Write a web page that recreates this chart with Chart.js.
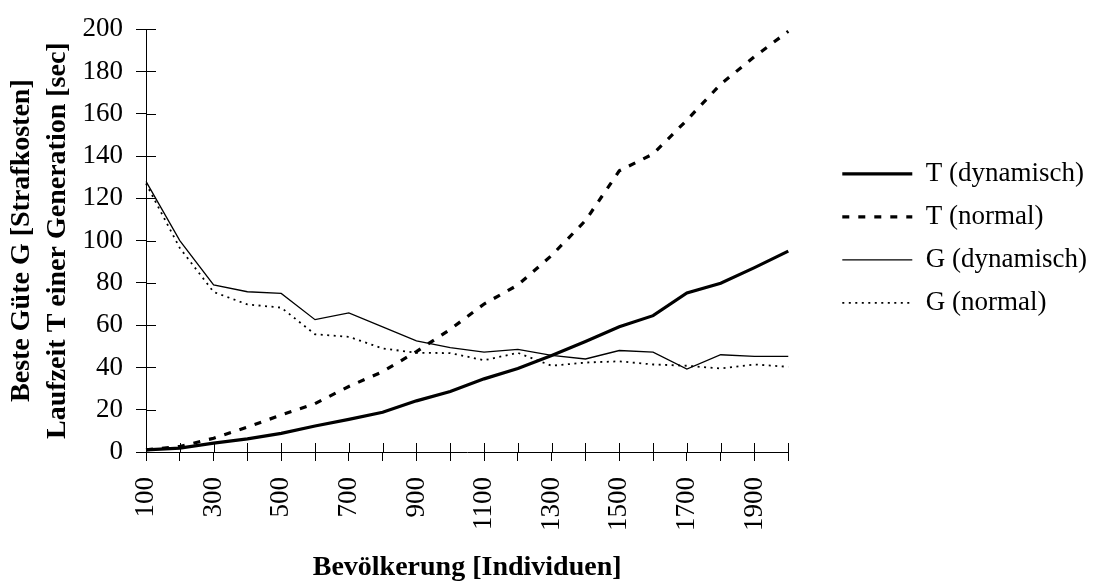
<!DOCTYPE html>
<html>
<head>
<meta charset="utf-8">
<script src="https://cdn.jsdelivr.net/npm/chart.js@4/dist/chart.umd.min.js"></script>
<style>
  html, body { margin: 0; padding: 0; background: #fff; }
  #wrap { width: 1097px; height: 582px; }
</style>
</head>
<body>
<div id="wrap"><canvas id="chart" width="1097" height="582"></canvas></div>
<script>
// x categories: population size
var categories = ['100', '200', '300', '400', '500', '600', '700', '800', '900', '1000',
                  '1100', '1200', '1300', '1400', '1500', '1600', '1700', '1800', '1900', '2000'];

// runtime T per generation [sec]
var tDynamisch = [1, 1.8, 4.2, 6.2, 8.8, 12.3, 15.4, 18.8, 24.2, 28.6,
                  34.6, 39.5, 45.7, 52.3, 59.2, 64.5, 75.2, 79.8, 87.2, 95];
var tNormal = [1, 2.6, 6.5, 11.8, 17.5, 22.9, 31, 38, 47.5, 58,
               70, 79, 93, 109.5, 133, 141, 157, 174, 187, 199];

// best quality G [penalty costs]
var gDynamisch = [128, 100, 79, 75.8, 75, 62.6, 65.8, 59.2, 52.6, 49.4,
                  47.2, 48.5, 45.7, 44, 48, 47.2, 39.2, 46, 45.2, 45.2];
var gNormal = [127, 96.5, 75.7, 69.8, 68.3, 55.7, 54.5, 49, 46.9, 46.8,
               43.4, 46.9, 40.8, 42.3, 42.9, 41.4, 40.8, 39.5, 41.4, 40.3];

var yTicks = [0, 20, 40, 60, 80, 100, 120, 140, 160, 180, 200];

var seriesNames = ['T (dynamisch)', 'T (normal)', 'G (dynamisch)', 'G (normal)'];

Chart.defaults.font.family = "'Liberation Serif', 'Times New Roman', serif";
Chart.defaults.color = '#000';

// tick marks crossing the axes (inside part)
var innerTicks = {
    id: 'innerTicks',
    beforeDatasetsDraw: function (chart) {
        var ctx = chart.ctx, x = chart.scales.x, y = chart.scales.y;
        var i;
        ctx.save();
        ctx.strokeStyle = '#000';
        ctx.lineWidth = 1;
        ctx.beginPath();
        for (i = 0; i < x.ticks.length; i += 1) {
            var px = Math.round(x.getPixelForTick(i)) + 0.5;
            ctx.moveTo(px, x.top);
            ctx.lineTo(px, x.top - 9);
        }
        for (i = 0; i < y.ticks.length; i += 1) {
            var py = Math.round(y.getPixelForTick(i)) + 0.5;
            ctx.moveTo(y.right, py);
            ctx.lineTo(y.right + 10, py);
        }
        ctx.stroke();
        ctx.restore();
    }
};

function line(label, data, width, dash) {
    return {
        label: label,
        data: data,
        borderColor: '#000',
        backgroundColor: '#000',
        borderWidth: width,
        borderDash: dash,
        pointRadius: 0,
        tension: 0,
        fill: false
    };
}

new Chart(document.getElementById('chart').getContext('2d'), {
    type: 'line',
    data: {
        labels: categories,
        datasets: [
            line(seriesNames[0], tDynamisch, 3.2, []),
            line(seriesNames[1], tNormal, 3.2, [7, 9]),
            line(seriesNames[2], gDynamisch, 1.3, []),
            line(seriesNames[3], gNormal, 1.8, [2, 4.5])
        ]
    },
    options: {
        responsive: false,
        animation: false,
        devicePixelRatio: 1,
        layout: { padding: { top: 22, left: 0, right: 0, bottom: 0 } },
        plugins: {
            tooltip: { enabled: false },
            legend: {
                position: 'right',
                align: 'start',
                title: { display: true, text: '', padding: { top: 0, bottom: 108 } },
                labels: {
                    usePointStyle: true,
                    pointStyle: 'line',
                    pointStyleWidth: 70,
                    boxWidth: 70,
                    padding: 16,
                    font: { size: 27 },
                    color: '#000',
                    generateLabels: function (chart) {
                        return chart.data.datasets.map(function (ds, i) {
                            return {
                                text: ds.label,
                                datasetIndex: i,
                                fillStyle: ds.borderColor,
                                strokeStyle: ds.borderColor,
                                fontColor: '#000',
                                lineWidth: ds.borderWidth,
                                lineDash: ds.borderDash,
                                lineCap: 'butt',
                                pointStyle: 'line',
                                hidden: false
                            };
                        });
                    }
                }
            }
        },
        scales: {
            x: {
                type: 'category',
                offset: false,
                grid: { drawOnChartArea: false, tickLength: 9, color: '#000', lineWidth: 1 },
                border: { color: '#000', width: 1 },
                ticks: {
                    autoSkip: false,
                    maxRotation: 90,
                    minRotation: 90,
                    padding: 16,
                    font: { size: 27 },
                    color: '#000',
                    callback: function (value, index) {
                        return index % 2 === 0 ? categories[index] : '';
                    }
                },
                title: {
                    display: true,
                    text: 'Bevölkerung [Individuen]',
                    font: { size: 28, weight: 'bold', lineHeight: 1 },
                    padding: { top: 0, bottom: 0 },
                    color: '#000'
                },
                afterFit: function (scale) { scale.height = 130; }
            },
            y: {
                min: 0,
                max: 200,
                afterBuildTicks: function (scale) {
                    scale.ticks = yTicks.map(function (v) { return { value: v }; });
                },
                grid: { drawOnChartArea: false, tickLength: 10, color: '#000', lineWidth: 1 },
                border: { color: '#000', width: 1 },
                ticks: { padding: 13, font: { size: 27 }, color: '#000' },
                title: {
                    display: true,
                    text: ['Beste Güte G [Strafkosten]', 'Laufzeit T einer Generation [sec]'],
                    font: { size: 28, weight: 'bold', lineHeight: 1.286 },
                    padding: { top: 4, bottom: 0 },
                    color: '#000'
                },
                afterFit: function (scale) { scale.width = 146; }
            },
            gap: {
                type: 'linear',
                position: 'right',
                display: false,
                afterFit: function (scale) { scale.width = 38; }
            }
        }
    },
    plugins: [innerTicks]
});
</script>
</body>
</html>
